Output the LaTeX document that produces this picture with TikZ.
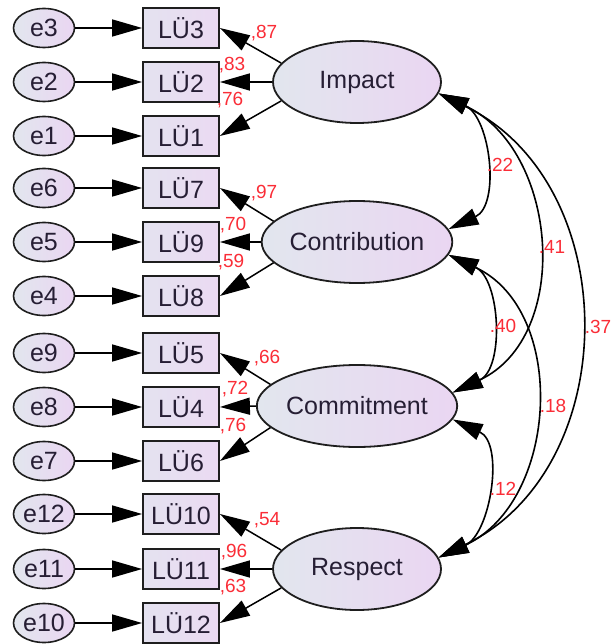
\documentclass[tikz,border=0pt]{standalone}
\usepackage{fontspec}
\setmainfont{Liberation Sans}
\usetikzlibrary{shapes.geometric,arrows.meta}

\definecolor{ink}{RGB}{38,30,52}
\definecolor{coefred}{RGB}{250,45,55}
\definecolor{fillL}{RGB}{226,230,238}
\definecolor{fillR}{RGB}{234,214,242}
\definecolor{boxL}{RGB}{228,226,240}
\definecolor{boxR}{RGB}{235,218,242}
\definecolor{edge}{RGB}{30,30,30}

\tikzset{
  latent/.style={ellipse, draw=edge, line width=1.8pt, minimum width=168pt,
    minimum height=82pt, inner sep=0pt, left color=fillL, right color=fillR,
    text=ink, font=\fontsize{25}{28}\selectfont},
  obsbox/.style={rectangle, draw=edge, line width=1.8pt, minimum width=76pt,
    minimum height=40pt, inner sep=0pt, left color=boxL, right color=boxR,
    text=ink, font=\fontsize{25}{28}\selectfont},
  errnode/.style={ellipse, draw=edge, line width=1.6pt, minimum width=61pt,
    minimum height=39pt, inner sep=0pt, left color=fillL, right color=fillR,
    text=ink, font=\fontsize{25}{28}\selectfont},
  link/.style={line width=1.5pt, draw=black, -{Triangle[length=30pt,width=17pt]}},
  covlink/.style={line width=1.6pt, draw=black,
    {Triangle[length=30pt,width=17pt]}-{Triangle[length=30pt,width=17pt]}},
  coef/.style={text=coefred, font=\fontsize{19}{21}\selectfont, inner sep=0pt}
}

\begin{document}
\begin{tikzpicture}[x=1pt,y=-1pt]
\useasboundingbox (0,0) rectangle (612,644);

% latent factors
\node[latent] (Impact)       at (357,82)  {Impact};
\node[latent] (Contribution) at (357,242) {Contribution};
\node[latent] (Commitment)   at (357,406) {Commitment};
\node[latent] (Respect)      at (357,569) {Respect};

% indicators with their error terms
\foreach \e/\v/\y in {e3/LÜ3/28, e2/LÜ2/82, e1/LÜ1/136,
                      e6/LÜ7/188, e5/LÜ9/242, e4/LÜ8/296,
                      e9/LÜ5/353, e8/LÜ4/407, e7/LÜ6/461,
                      e12/LÜ10/514, e11/LÜ11/569, e10/LÜ12/623}{
  \node[errnode] (\e) at (44,\y) {\e};
  \node[obsbox] (box-\e) at (181,\y) {\v};
  \draw[link] (\e.east) -- (box-\e.west);
}

% factor loadings
\draw[link] (Impact.166) -- (box-e3.east);
\draw[link] (Impact.west) -- (box-e2.east);
\draw[link] (Impact.194) -- (box-e1.east);
\draw[link] (Contribution.166) -- (box-e6.east);
\draw[link] (Contribution.west) -- (box-e5.east);
\draw[link] (Contribution.194) -- (box-e4.east);
\draw[link] (Commitment.166) -- (box-e9.east);
\draw[link] (Commitment.west) -- (box-e8.east);
\draw[link] (Commitment.194) -- (box-e7.east);
\draw[link] (Respect.166) -- (box-e12.east);
\draw[link] (Respect.west) -- (box-e11.east);
\draw[link] (Respect.194) -- (box-e10.east);

\node[coef] (l87) at (264,33)  {,87};
\node[coef] (l83) at (232,65)  {,83};
\node[coef] (l76) at (230,100) {,76};
\node[coef] (l97) at (264,193) {,97};
\node[coef] (l70) at (233,225) {,70};
\node[coef] (l59) at (231,262) {,59};
\node[coef] (l66) at (267,358) {,66};
\node[coef] (l72) at (235,389) {,72};
\node[coef] (l76b) at (233,426) {,76};
\node[coef] (l54) at (267,520) {,54};
\node[coef] (l96) at (234,552) {,96};
\node[coef] (l63) at (233,587) {,63};

% factor covariances
\draw[covlink] (Impact.-8) .. controls +(52,24) and +(52,-24) .. (Contribution.8);
\draw[covlink] (Impact.-8) .. controls +(120,56) and +(120,-56) .. (Commitment.8);
\draw[covlink] (Impact.-8) .. controls +(186,90) and +(186,-90) .. (Respect.8);
\draw[covlink] (Contribution.-8) .. controls +(52,24) and +(52,-24) .. (Commitment.8);
\draw[covlink] (Contribution.-8) .. controls +(120,56) and +(120,-56) .. (Respect.8);
\draw[covlink] (Commitment.-8) .. controls +(52,24) and +(52,-24) .. (Respect.8);

\node[coef] (r22) at (500,165) {.22};
\node[coef] (r41) at (552,247) {.41};
\node[coef] (r37) at (598,327) {.37};
\node[coef] (r40) at (503,326) {.40};
\node[coef] (r18) at (553,406) {.18};
\node[coef] (r12) at (503,489) {.12};
\end{tikzpicture}
\end{document}
